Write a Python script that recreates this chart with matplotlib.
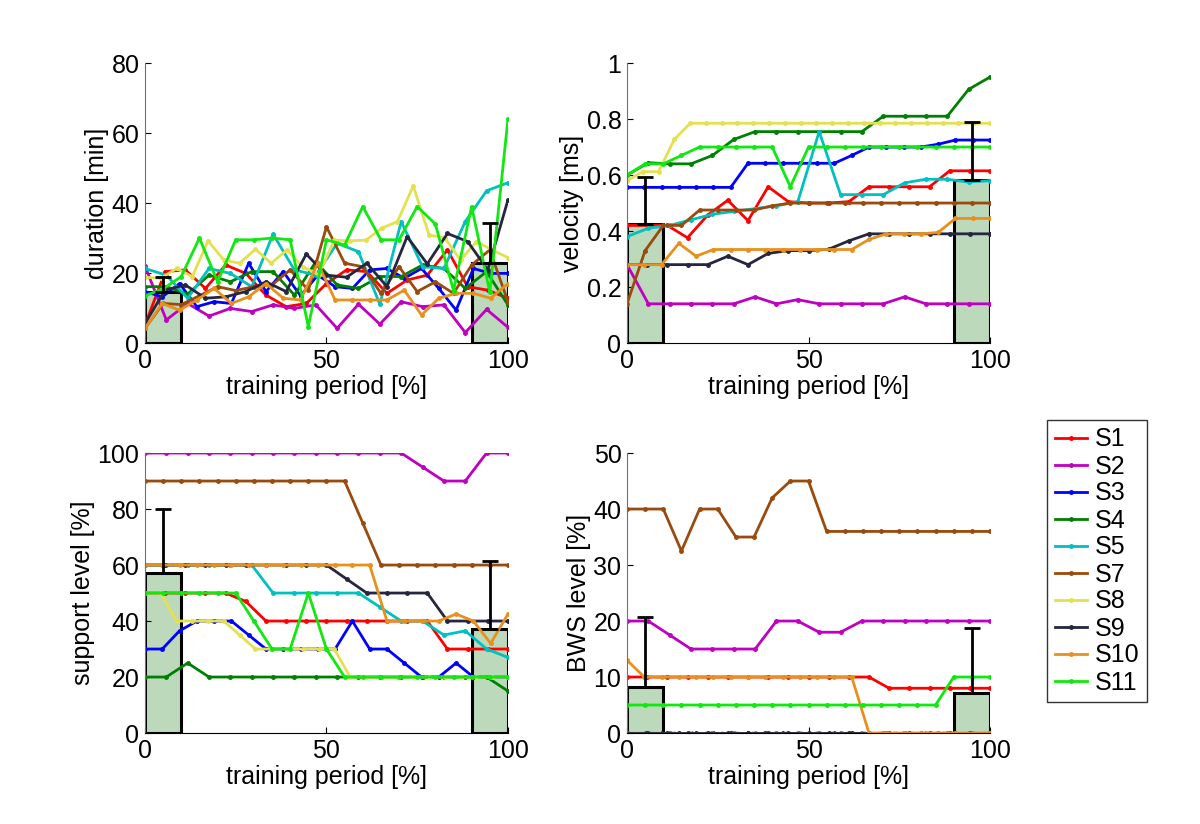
import numpy as np
import matplotlib
matplotlib.use('Agg')
import matplotlib.pyplot as plt
from matplotlib.ticker import FormatStrFormatter

plt.rcParams['font.family'] = ['Liberation Sans', 'DejaVu Sans']

subjects = ['S1', 'S2', 'S3', 'S4', 'S5', 'S7', 'S8', 'S9', 'S10', 'S11']
colors = ['#ff0000', '#c000c0', '#0000ff', '#008000', '#00c0c0',
          '#9a4a0c', '#e4e050', '#262640', '#e8901e', '#10e810']

# duration [min]
duration = {
    'S1': [5.1, 20.4, 20.9, 15.6, 22.3, 19.9, 13.7, 10.4, 11.3, 17.0, 20.9, 20.4, 14.2, 18.0, 19.4, 26.6, 16.1, 15.1, 12.8],
    'S2': [22.0, 6.6, 11.3, 7.7, 9.9, 9.0, 10.9, 9.9, 10.9, 4.2, 11.1, 5.4, 11.8, 10.4, 10.9, 3.0, 9.6, 4.5],
    'S3': [14.7, 13.2, 17.0, 10.4, 11.8, 11.3, 22.8, 14.7, 20.4, 13.5, 19.4, 16.1, 15.6, 20.9, 21.3, 18.5, 21.3, 15.6, 9.4, 21.3, 19.9, 19.9],
    'S4': [16.1, 16.1, 14.0, 19.4, 17.5, 20.4, 20.4, 13.7, 23.2, 16.6, 15.6, 19.0, 19.0, 22.3, 21.3, 15.6, 20.4, 10.9],
    'S5': [21.3, 19.4, 12.8, 21.3, 19.9, 16.1, 31.1, 20.9, 19.4, 28.5, 26.1, 11.1, 34.7, 21.8, 21.3, 34.7, 43.5, 45.8],
    'S7': [4.2, 11.3, 11.0, 13.5, 16.1, 15.0, 16.1, 16.6, 20.9, 15.1, 33.2, 22.8, 21.8, 14.2, 21.8, 14.7, 17.5, 14.2, 22.3, 26.6, 11.8],
    'S8': [18.8, 18.5, 21.3, 19.0, 29.2, 23.7, 22.8, 26.8, 22.8, 26.6, 21.8, 19.5, 29.4, 29.2, 29.4, 32.8, 34.7, 44.9, 30.9, 30.0, 23.7, 29.0, 26.6, 24.4],
    'S9': [5.6, 15.1, 16.6, 12.8, 13.2, 14.7, 17.5, 14.7, 25.4, 19.4, 18.8, 22.8, 16.1, 30.4, 22.6, 31.3, 29.0, 20.9, 40.9],
    'S10': [4.2, 11.3, 9.4, 12.3, 15.6, 11.3, 13.2, 17.0, 12.8, 12.3, 22.8, 12.3, 12.3, 12.3, 12.3, 15.1, 8.0, 12.8, 14.2, 14.2, 12.8, 17.0],
    'S11': [13.5, 15.5, 19.0, 30.0, 17.5, 29.5, 29.5, 30.0, 29.5, 4.7, 29.5, 28.0, 39.0, 29.5, 29.5, 39.0, 34.0, 15.0, 39.0, 14.5, 64.0],
}

# velocity [ms]
velocity = {
    'S1': [0.42, 0.42, 0.42, 0.376, 0.457, 0.51, 0.437, 0.558, 0.505, 0.50, 0.50, 0.505, 0.558, 0.558, 0.558, 0.558, 0.615, 0.615, 0.615],
    'S2': [0.28, 0.14, 0.14, 0.14, 0.14, 0.14, 0.165, 0.14, 0.155, 0.14, 0.14, 0.14, 0.14, 0.165, 0.14, 0.14, 0.14, 0.14],
    'S3': [0.556, 0.556, 0.556, 0.556, 0.556, 0.556, 0.556, 0.642, 0.642, 0.642, 0.642, 0.642, 0.642, 0.67, 0.70, 0.70, 0.70, 0.70, 0.71, 0.725, 0.725, 0.725],
    'S4': [0.60, 0.644, 0.64, 0.64, 0.67, 0.727, 0.755, 0.755, 0.755, 0.755, 0.755, 0.755, 0.81, 0.81, 0.81, 0.81, 0.906, 0.95],
    'S5': [0.38, 0.41, 0.42, 0.44, 0.46, 0.47, 0.48, 0.49, 0.505, 0.755, 0.53, 0.53, 0.53, 0.572, 0.585, 0.585, 0.575, 0.58],
    'S7': [0.14, 0.33, 0.42, 0.42, 0.475, 0.475, 0.475, 0.475, 0.49, 0.50, 0.50, 0.50, 0.50, 0.50, 0.50, 0.50, 0.50, 0.50, 0.50, 0.50, 0.50],
    'S8': [0.58, 0.612, 0.612, 0.727, 0.785, 0.785, 0.785, 0.785, 0.785, 0.785, 0.785, 0.785, 0.785, 0.785, 0.785, 0.785, 0.785, 0.785, 0.785, 0.785, 0.785, 0.785, 0.785, 0.785],
    'S9': [0.28, 0.28, 0.28, 0.28, 0.28, 0.31, 0.28, 0.32, 0.33, 0.33, 0.335, 0.365, 0.39, 0.39, 0.39, 0.39, 0.39, 0.39, 0.39],
    'S10': [0.28, 0.28, 0.28, 0.356, 0.31, 0.334, 0.334, 0.334, 0.334, 0.334, 0.334, 0.334, 0.334, 0.334, 0.37, 0.39, 0.39, 0.39, 0.395, 0.445, 0.445, 0.445],
    'S11': [0.60, 0.64, 0.64, 0.67, 0.70, 0.70, 0.70, 0.70, 0.70, 0.558, 0.70, 0.70, 0.70, 0.70, 0.70, 0.70, 0.70, 0.70, 0.70, 0.70, 0.70],
}

# support level [%]
support = {
    'S1': [50, 50, 50, 50, 50, 47, 40, 40, 40, 40, 40, 40, 40, 40, 40, 30, 30, 30, 30],
    'S2': [100, 100, 100, 100, 100, 100, 100, 100, 100, 100, 100, 100, 100, 95, 90, 90, 100, 100],
    'S3': [30, 30, 36.5, 40, 40, 40, 35, 30, 30, 30, 30, 30, 40, 30, 30, 25, 20, 20, 25, 20, 20, 20],
    'S4': [20, 20, 25, 20, 20, 20, 20, 20, 20, 20, 20, 20, 20, 20, 20, 20, 20, 15],
    'S5': [60, 60, 60, 60, 60, 60, 50, 50, 50, 50, 50, 45, 40, 40, 35, 36.5, 30, 27],
    'S7': [90, 90, 90, 90, 90, 90, 90, 90, 90, 90, 90, 90, 75, 60, 60, 60, 60, 60, 60, 60, 60],
    'S8': [50, 50, 40, 40, 40, 40, 35, 30, 30, 30, 30, 30, 30, 20, 20, 20, 20, 20, 20, 20, 20, 20, 20, 20],
    'S9': [60, 60, 60, 60, 60, 60, 60, 60, 60, 60, 55, 50, 50, 50, 50, 40, 40, 40, 40],
    'S10': [60, 60, 60, 60, 60, 60, 60, 60, 60, 60, 60, 60, 60, 60, 40, 40, 40, 40, 42.5, 40, 32, 42.5],
    'S11': [50, 50, 50, 50, 50, 50, 40, 30, 30, 50, 30, 20, 20, 20, 20, 20, 20, 20, 20, 20, 20],
}

# BWS level [%]
bws = {
    'S1': [10, 10, 10, 10, 10, 10, 10, 10, 10, 10, 10, 10, 10, 8, 8, 8, 8, 8, 8],
    'S2': [20, 20, 17.5, 15, 15, 15, 15, 20, 20, 18, 18, 20, 20, 20, 20, 20, 20, 20],
    'S3': [0] * 22,
    'S4': [0] * 18,
    'S5': [0] * 18,
    'S7': [40, 40, 40, 32.5, 40, 40, 35, 35, 42, 45, 45, 36, 36, 36, 36, 36, 36, 36, 36, 36, 36],
    'S8': [0] * 24,
    'S9': [0] * 19,
    'S10': [13, 10, 10, 10, 10, 10, 10, 10, 10, 10, 10, 10, 10, 10, 0, 0, 0, 0, 0, 0, 0, 0],
    'S11': [5, 5, 5, 5, 5, 5, 5, 5, 5, 5, 5, 5, 5, 5, 5, 5, 5, 5, 10, 10, 10],
}

# group mean (first / last 10 %) and std
bar_pos = [5, 95]
dur_mean = [14.7, 22.9]
dur_std = [4.1, 11.5]
vel_mean = [0.425, 0.582]
vel_std = [0.168, 0.208]
sup_mean = [57.1, 37.1]
sup_std = [22.8, 24.3]
bws_mean = [8.3, 7.1]
bws_std = [12.5, 11.6]

panels = [
    (duration, dur_mean, dur_std, 'duration [min]', (0, 80), np.arange(0, 81, 20)),
    (velocity, vel_mean, vel_std, 'velocity [ms]', (0, 1), np.arange(0, 1.01, 0.2)),
    (support, sup_mean, sup_std, 'support level [%]', (0, 100), np.arange(0, 101, 20)),
    (bws, bws_mean, bws_std, 'BWS level [%]', (0, 50), np.arange(0, 51, 10)),
]
positions = [
    [0.1208, 0.5837, 0.3025, 0.3398],
    [0.5225, 0.5837, 0.3025, 0.3398],
    [0.1208, 0.1104, 0.3025, 0.3398],
    [0.5225, 0.1104, 0.3025, 0.3398],
]

fig = plt.figure(figsize=(12, 8.24), dpi=100)
handles = []
for (data, mean, std, ylabel, ylim, yticks), pos in zip(panels, positions):
    ax = fig.add_axes(pos)
    ax.bar(bar_pos, mean, width=10, color='#bcd9bc', edgecolor='black',
           linewidth=2.2, zorder=1)
    handles = []
    for name, col in zip(subjects, colors):
        vals = data[name]
        x = np.linspace(0, 100, len(vals))
        h, = ax.plot(x, vals, '.-', color=col, linewidth=2, markersize=5,
                     zorder=2, label=name)
        handles.append(h)
    ax.errorbar(bar_pos, mean, yerr=[[0, 0], std], fmt='none', ecolor='black',
                elinewidth=2, capsize=6, capthick=2, zorder=3)
    ax.set_xlim(0, 100)
    ax.set_ylim(*ylim)
    ax.set_xticks([0, 50, 100])
    ax.set_yticks(yticks)
    ax.yaxis.set_major_formatter(FormatStrFormatter('%g'))
    ax.spines['top'].set_visible(False)
    ax.spines['right'].set_visible(False)
    ax.spines['left'].set_color('#707070')
    ax.tick_params(axis='both', direction='in', length=4, labelsize=18, pad=4)
    ax.set_xlabel('training period [%]', fontsize=18, labelpad=2)
    ax.set_ylabel(ylabel, fontsize=18, labelpad=2)

leg = fig.legend(handles, subjects, loc='upper left',
                 bbox_to_anchor=(1047 / 1200, 1 - 420 / 824), fontsize=18,
                 frameon=True, fancybox=False, edgecolor='black',
                 handlelength=1.3, labelspacing=0.12, borderpad=0.3,
                 handletextpad=0.3, borderaxespad=0)
leg.get_frame().set_linewidth(1)

fig.savefig('out.png', dpi=100)
